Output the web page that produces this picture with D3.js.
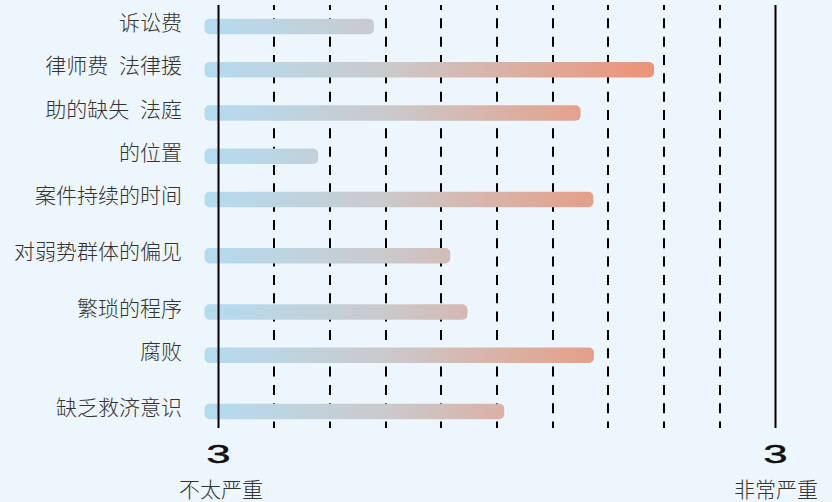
<!DOCTYPE html>
<html>
<head>
<meta charset="utf-8">
<script src="https://cdn.jsdelivr.net/npm/d3@7/dist/d3.min.js"></script>
<style>
  html, body { margin: 0; padding: 0; background: #eef6fd; }
  svg { display: block; }
</style>
</head>
<body>
<svg id="chart" width="832" height="502"></svg>
<script>
// ---- data ----
const categories = ["诉讼费", "律师费 法律援", "助的缺失 法庭", "的位置", "案件持续的时间", "对弱势群体的偏见", "繁琐的程序", "腐败", "缺乏救济意识"];
const values = [2.79, 7.82, 6.5, 1.79, 6.73, 4.16, 4.47, 6.74, 5.13];
const tickValues = [0, 1, 2, 3, 4, 5, 6, 7, 8, 9, 10];
const endTickLabels = ["3", "3"];
const endCaptions = ["不太严重", "非常严重"];
// relative spacing before each row (layout weights for the uneven row rhythm)
const rowSpacing = [0, 1, 1, 1, 1, 1.3, 1.3, 1, 1.3];

// ---- layout ----
const W = 832, H = 502;
const svg = d3.select("#chart");
svg.append("rect").attr("width", W).attr("height", H).attr("fill", "#eef6fd");

const x = d3.scaleLinear().domain([0, 10]).range([218.5, 775.5]);
const cum = d3.cumsum(rowSpacing);
const yPos = d3.scaleLinear().domain([0, cum[cum.length - 1]]).range([26.5, 411.5]);
const yOf = i => yPos(cum[i]);

const barH = 15.5, overhang = 14, radius = 5;
const gridTop = 5, gridBottom = 428;

// gradient
const defs = svg.append("defs");
const grad = defs.append("linearGradient")
  .attr("id", "barGrad")
  .attr("gradientUnits", "userSpaceOnUse")
  .attr("x1", x(0) - overhang).attr("x2", x(d3.max(values)))
  .attr("y1", 0).attr("y2", 0);
grad.append("stop").attr("offset", "0%").attr("stop-color", "#b3dcf1");
grad.append("stop").attr("offset", "40%").attr("stop-color", "#cacacc");
grad.append("stop").attr("offset", "100%").attr("stop-color", "#ed9275");

// dashed grid lines (behind bars)
svg.append("g").selectAll("line")
  .data(tickValues.slice(1, -1))
  .join("line")
  .attr("x1", d => Math.round(x(d)))
  .attr("x2", d => Math.round(x(d)))
  .attr("y1", gridTop).attr("y2", gridBottom)
  .attr("stroke", "#000")
  .attr("stroke-width", 2)
  .attr("stroke-dasharray", "10 8.33")
  .attr("stroke-dashoffset", 5);

// bars
svg.append("g").selectAll("rect")
  .data(values)
  .join("rect")
  .attr("x", x(0) - overhang)
  .attr("y", (d, i) => yOf(i) - barH / 2)
  .attr("width", d => x(d) - (x(0) - overhang))
  .attr("height", barH)
  .attr("rx", radius).attr("ry", radius)
  .attr("fill", "url(#barGrad)");

// solid end lines (on top of bars)
svg.append("g").selectAll("line")
  .data([tickValues[0], tickValues[tickValues.length - 1]])
  .join("line")
  .attr("x1", d => x(d)).attr("x2", d => x(d))
  .attr("y1", gridTop).attr("y2", gridBottom)
  .attr("stroke", "#000")
  .attr("stroke-width", 2);

// category labels
svg.append("g").selectAll("text")
  .data(categories)
  .join("text")
  .attr("x", 182)
  .attr("y", (d, i) => yOf(i) - 5.5)
  .attr("text-anchor", "end")
  .attr("dominant-baseline", "central")
  .attr("font-family", "'Noto Sans CJK SC', sans-serif")
  .attr("font-weight", 300)
  .attr("font-size", 21)
  .attr("word-spacing", 6)
  .attr("fill", "#333")
  .text(d => d);

// end tick labels "3"
const ends = [tickValues[0], tickValues[tickValues.length - 1]];
svg.append("g").selectAll("text")
  .data(ends)
  .join("text")
  .attr("transform", d => `translate(${x(d)},463) scale(1.75,1)`)
  .attr("text-anchor", "middle")
  .attr("font-family", "'Liberation Sans', Arial, sans-serif")
  .attr("font-size", 25)
  .attr("stroke", "#111")
  .attr("stroke-width", 0.4)
  .attr("fill", "#111")
  .text((d, i) => endTickLabels[i]);

// end captions
svg.append("g").selectAll("text")
  .data(ends)
  .join("text")
  .attr("x", (d, i) => x(d) + (i === 0 ? 2.5 : 0.5))
  .attr("y", 488)
  .attr("text-anchor", "middle")
  .attr("dominant-baseline", "central")
  .attr("font-family", "'Noto Sans CJK SC', sans-serif")
  .attr("font-weight", 300)
  .attr("font-size", 21)
  .attr("fill", "#333")
  .text((d, i) => endCaptions[i]);
</script>
</body>
</html>
